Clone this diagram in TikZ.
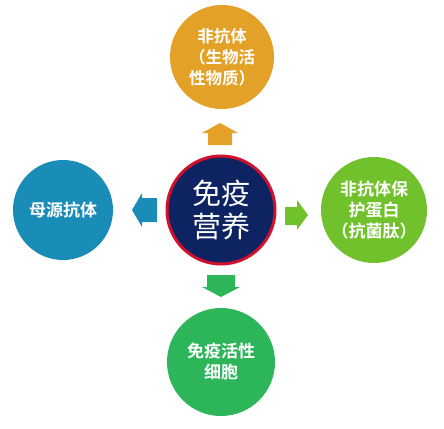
\documentclass[tikz,border=0pt]{standalone}
\usepackage{fontspec}
\setmainfont{Noto Sans CJK SC}
\newfontfamily\cjkb{Noto Sans CJK SC Bold}
\newfontfamily\cjkr{Noto Sans CJK SC}
\definecolor{cOrange}{HTML}{E4A127}
\definecolor{cBlue}{HTML}{1A8CB8}
\definecolor{cLGreen}{HTML}{70C12B}
\definecolor{cGreen}{HTML}{2DB55A}
\definecolor{cNavy}{HTML}{0E2462}
\definecolor{cRed}{HTML}{D0102C}
\begin{document}
\begin{tikzpicture}[x=1pt,y=-1pt,
  bub/.style={circle,inner sep=0pt,text=white,align=center,font=\cjkb\fontsize{17}{21}\selectfont}]
\useasboundingbox (0,0) rectangle (444,428);
\fill[white] (0,0) rectangle (444,428);
% circles
\node[bub,fill=cOrange,minimum size=104pt,font=\cjkb\fontsize{16.5}{21}\selectfont] (top) at (222,57) {非抗体\\（生物活\\性物质）};
\node[bub,fill=cBlue,minimum size=100pt] (left) at (63,210) {母源抗体};
\node[bub,fill=cLGreen,minimum size=106pt] (right) at (374,210) {非抗体保\\护蛋白\\（抗菌肽）};
\node[bub,fill=cGreen,minimum size=108pt] (bottom) at (221,362) {免疫活性\\细胞};
\node[circle,fill=cNavy,draw=cRed,line width=3pt,minimum size=108pt,inner sep=0pt,text=white,align=center,font=\cjkr\fontsize{29}{33}\selectfont] (center) at (221,210) {免疫\\营养};
% arrows
\fill[cOrange] (220,123) -- (238,133) -- (232,133) -- (232,145) -- (208,145) -- (208,133) -- (202,133) -- cycle;
\fill[cBlue] (132,210) -- (142,193) -- (142,198) -- (157,198) -- (157,222) -- (142,222) -- (142,227) -- cycle;
\fill[cLGreen] (308,215) -- (297,200) -- (297,207) -- (285,207) -- (285,225) -- (297,225) -- (297,230) -- cycle;
\fill[cGreen] (221,297) -- (202,287) -- (207,287) -- (207,275) -- (235,275) -- (235,287) -- (240,287) -- cycle;
\end{tikzpicture}
\end{document}
